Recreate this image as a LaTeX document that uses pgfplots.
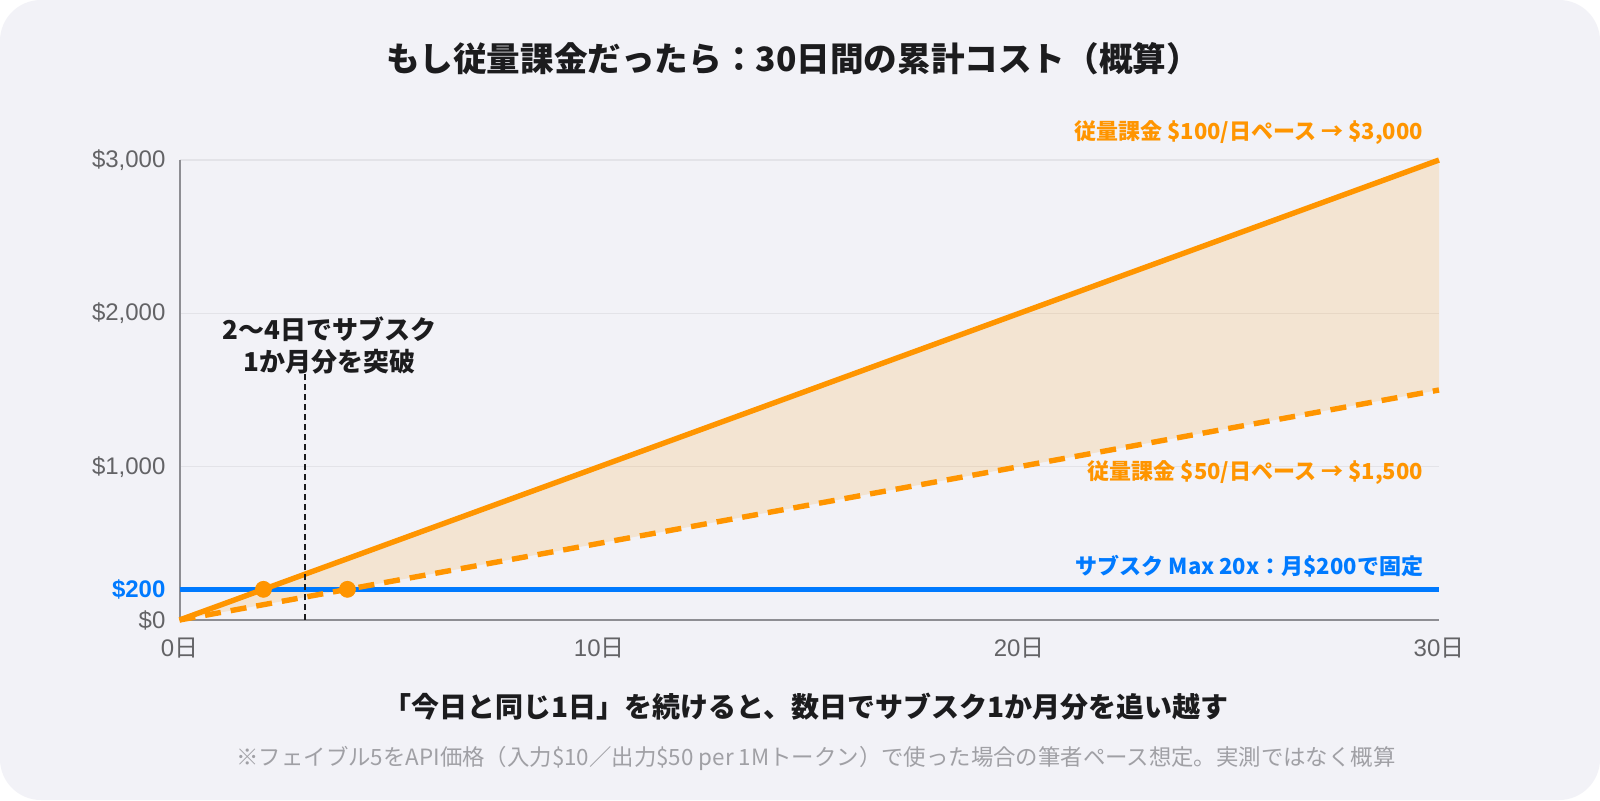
\documentclass[border=0pt]{standalone}
\usepackage{fontspec}
\setmainfont{Liberation Sans}
\newfontfamily\jp{Noto Sans CJK JP}
\usepackage{pgfplots}
\pgfplotsset{compat=1.18}
\definecolor{bgc}{HTML}{F2F2F7}
\definecolor{org}{HTML}{FF9500}
\definecolor{blu}{HTML}{007AFF}
\definecolor{axg}{HTML}{8E8E93}
\definecolor{grd}{HTML}{E3E3E8}
\definecolor{tkc}{HTML}{636366}
\definecolor{ink}{HTML}{1C1C1E}
\definecolor{fnc}{HTML}{A0A0A5}
\begin{document}
\begin{tikzpicture}
\fill[white] (0,0) rectangle (800pt,400pt);
\fill[bgc, rounded corners=20.5pt] (0,0) rectangle (800pt,400pt);
\begin{axis}[
  at={(89.75pt,90pt)}, anchor=south west,
  scale only axis, width=629.75pt, height=230pt,
  xmin=0, xmax=30, ymin=0, ymax=3000,
  clip=false,
  axis lines=left,
  axis line style={draw=axg, line width=1pt, -},
  major tick length=0pt,
  xtick={0,10,20,30},
  xticklabels={{0\jp 日},{10\jp 日},{20\jp 日},{30\jp 日}},
  ytick={1000,2000,3000},
  yticklabels={{\$1,000},{\$2,000},{\$3,000}},
  extra y ticks={0,200},
  extra y tick labels={{\$0},{\textcolor{blu}{\bfseries\$200}}},
  extra y tick style={grid=none},
  ymajorgrids,
  grid style={draw=grd, line width=0.8pt},
  tick label style={font=\fontsize{12}{14}\selectfont, text=tkc},
  yticklabel style={xshift=-3.5pt},
  xticklabel style={yshift=-5.5pt},
]
\addplot[draw=none, fill=org, fill opacity=0.15] coordinates {(0,0) (30,3000) (30,1500) (0,0)} \closedcycle;
\addplot[draw=blu, line width=2.7pt] coordinates {(0,200) (30,200)};
\addplot[draw=org, line width=2.7pt] coordinates {(0,0) (30,3000)};
\addplot[draw=org, line width=2.7pt, dash pattern=on 8pt off 5pt] coordinates {(0,0) (30,1500)};
\addplot[draw=ink, line width=1pt, dash pattern=on 3pt off 2pt] coordinates {(3,0) (3,1615)};
\addplot[only marks, mark=*, mark size=4pt, color=org] coordinates {(2,200) (4,200)};
\node[align=center, font=\jp\bfseries\fontsize{13}{16}\selectfont, text=ink] at (axis cs:3.58,1791) {2〜4日でサブスク\\1か月分を突破};
\node[anchor=east, inner sep=0pt, font=\jp\bfseries\fontsize{11}{13}\selectfont, text=org] at (axis cs:29.63,3179) {従量課金 \$100/日ペース → \$3,000};
\node[anchor=east, inner sep=0pt, font=\jp\bfseries\fontsize{11}{13}\selectfont, text=org] at (axis cs:29.63,962) {従量課金 \$50/日ペース → \$1,500};
\node[anchor=east, inner sep=0pt, font=\jp\bfseries\fontsize{11}{13}\selectfont, text=blu] at (axis cs:29.63,350) {サブスク Max 20x：月\$200で固定};
\end{axis}
\node[font=\jp\bfseries\fontsize{16.8}{20}\selectfont, text=ink] at (396.5pt,370.5pt) {もし従量課金だったら：30日間の累計コスト（概算）};
\node[font=\jp\bfseries\fontsize{14}{17}\selectfont, text=ink] at (403pt,46.5pt) {「今日と同じ1日」を続けると、数日でサブスク1か月分を追い越す};
\node[font=\jp\fontsize{11.2}{13}\selectfont, text=fnc] at (408pt,21pt) {※フェイブル5をAPI価格（入力\$10／出力\$50 per 1Mトークン）で使った場合の筆者ペース想定。実測ではなく概算};
\end{tikzpicture}
\end{document}
